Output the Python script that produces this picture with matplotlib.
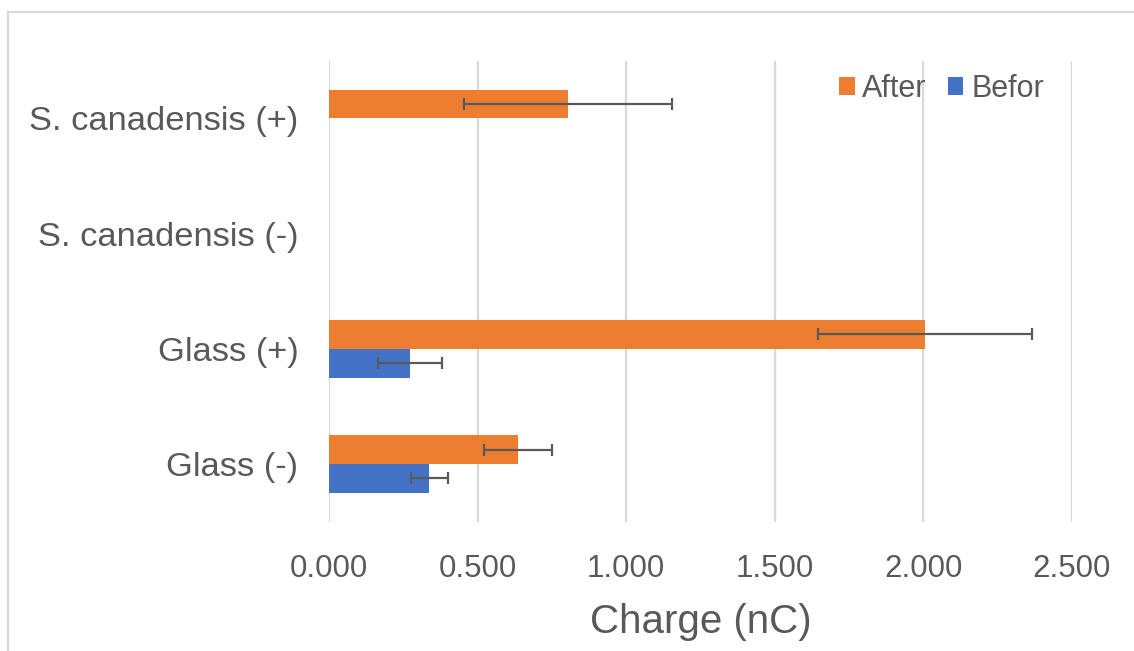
import numpy as np
import matplotlib
matplotlib.use("Agg")
import matplotlib.pyplot as plt
from matplotlib.patches import Rectangle, Patch

# Data (bottom to top)
categories = ["Glass (-)", "Glass (+)", "S. canadensis (-)", "S. canadensis (+)"]
after_vals = [0.636, 2.004, np.nan, 0.805]
after_err = [0.115, 0.360, np.nan, 0.350]
befor_vals = [0.338, 0.273, np.nan, np.nan]
befor_err = [0.063, 0.107, np.nan, np.nan]
x_ticks = [0.0, 0.5, 1.0, 1.5, 2.0, 2.5]
series_names = ["After", "Befor"]

ORANGE = "#ED7D31"
BLUE = "#4472C4"
TEXT = "#595959"
GRID = "#D9D9D9"
ERR = "#595959"

plt.rcParams["font.family"] = ["Liberation Sans", "DejaVu Sans"]

fig = plt.figure(figsize=(11.34, 6.51), dpi=100)
ax = fig.add_axes([329 / 1134, 1 - 521.7 / 651, (1072 - 329) / 1134, (521.7 - 60.7) / 651])

y = np.arange(len(categories))
h = 0.25

a = np.array(after_vals, dtype=float)
ae = np.array(after_err, dtype=float)
b = np.array(befor_vals, dtype=float)
be = np.array(befor_err, dtype=float)

ma = ~np.isnan(a)
mb = ~np.isnan(b)

ax.barh(y[ma] + h / 2, a[ma], height=h, color=ORANGE, zorder=2)
ax.barh(y[mb] - h / 2, b[mb], height=h, color=BLUE, zorder=2)

ax.errorbar(a[ma], y[ma] + h / 2, xerr=ae[ma], fmt="none", ecolor=ERR,
            elinewidth=1.6, capsize=4, capthick=1.6, zorder=3)
ax.errorbar(b[mb], y[mb] - h / 2, xerr=be[mb], fmt="none", ecolor=ERR,
            elinewidth=1.6, capsize=4, capthick=1.6, zorder=3)

ax.set_xlim(0, 2.5)
ax.set_ylim(-0.5, len(categories) - 0.5)
ax.set_xticks(x_ticks)
ax.set_xticklabels([f"{t:.3f}" for t in x_ticks])
ax.set_yticks(y)
ax.set_yticklabels(categories)

ax.grid(axis="x", color=GRID, linewidth=1.6, zorder=0)
ax.set_axisbelow(True)
for s in ax.spines.values():
    s.set_visible(False)

ax.tick_params(axis="x", length=0, pad=23, labelsize=22.5, labelcolor=TEXT)
ax.tick_params(axis="y", length=0, pad=22, labelsize=24.8, labelcolor=TEXT)

ax.set_xlabel("Charge (nC)", fontsize=29, color=TEXT, labelpad=14)

handles = [Patch(facecolor=ORANGE), Patch(facecolor=BLUE)]
leg = fig.legend(handles, series_names, loc="center right",
                 bbox_to_anchor=(1056 / 1134, 1 - 89 / 651), ncol=2,
                 frameon=False, fontsize=22, handlelength=0.5, handleheight=0.5,
                 handletextpad=0.25, columnspacing=0.7, borderaxespad=0)
for t in leg.get_texts():
    t.set_color(TEXT)

# Chart border
fig.patches.append(Rectangle((8 / 1134, -0.05), 1.2, 1 - 12 / 651 + 0.05,
                             transform=fig.transFigure, fill=False,
                             edgecolor=GRID, linewidth=1.6))

fig.savefig("out.png", dpi=100)
